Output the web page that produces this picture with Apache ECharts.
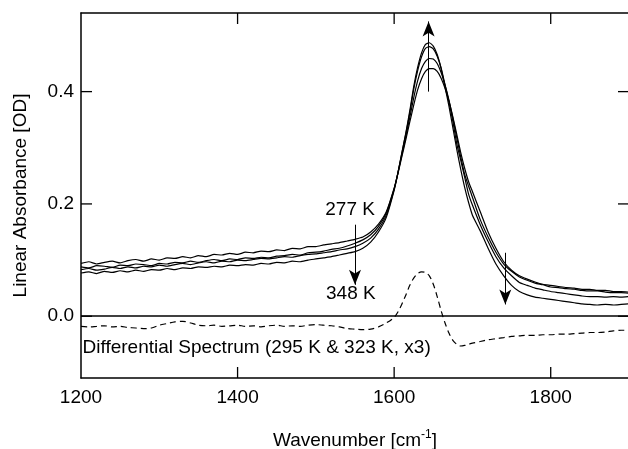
<!DOCTYPE html>
<html>
<head>
<meta charset="utf-8">
<script src="https://cdn.jsdelivr.net/npm/echarts@6/dist/echarts.min.js"></script>
<style>
html, body { margin: 0; padding: 0; background: #fff; }
#chart { width: 628px; height: 449px; }
</style>
</head>
<body>
<div id="chart"></div>
<script>
// wavenumber grid (cm-1)
const wavenumbers = [
1200,1210,1220,1230,1240,1250,1260,1270,1280,1290,
1300,1310,1320,1330,1340,1350,1360,1370,1380,1390,
1400,1410,1420,1430,1440,1450,1460,1470,1480,1490,
1500,1510,1520,1530,1540,1550,1560,1570,1580,1590,
1600,1605,1610,1615,1620,1625,1630,1635,1640,1645,1650,1655,1660,1665,1670,1675,1680,1685,1690,1695,1700,
1710,1720,1730,1740,1750,1760,1770,1780,1790,1800,1810,1820,1830,1840,1850,1860,1870,1880,1890,1900
];
// absorbance spectra, 277 K ... 348 K
const abs277 = [
.094,.097,.093,.096,.098,.095,.099,.101,.098,.102,
.100,.104,.103,.106,.104,.108,.106,.110,.109,.112,
.110,.114,.113,.116,.115,.118,.117,.121,.120,.124,
.124,.127,.129,.131,.134,.137,.141,.150,.164,.186,
.228,.255,.285,.315,.346,.376,.403,.423,.436,.441,.441,.436,.424,.406,.383,.355,.324,.292,.264,.240,.222,
.186,.150,.121,.097,.082,.072,.066,.061,.057,.055,.053,.051,.050,.048,.048,.046,.046,.044,.044,.043
];
const abs295 = [
.088,.086,.090,.089,.087,.091,.090,.093,.092,.090,
.094,.093,.096,.095,.098,.096,.099,.101,.099,.102,
.101,.104,.103,.105,.104,.107,.108,.110,.109,.113,
.114,.116,.119,.121,.125,.130,.136,.145,.160,.184,
.227,.256,.288,.320,.354,.389,.419,.441,.454,.459,.458,.450,.434,.412,.385,.353,.318,.284,.253,.232,.212,
.172,.141,.114,.093,.080,.070,.064,.059,.056,.052,.051,.049,.048,.046,.045,.045,.043,.042,.042,.041
];
const abs323 = [
.083,.085,.082,.084,.087,.085,.088,.086,.089,.088,
.091,.089,.092,.094,.092,.095,.097,.095,.098,.097,
.100,.099,.101,.103,.102,.104,.106,.105,.108,.110,
.111,.113,.115,.118,.120,.124,.130,.139,.155,.180,
.226,.257,.292,.325,.362,.404,.437,.462,.477,.480,.476,.463,.442,.412,.382,.347,.307,.278,.248,.218,.198,
.163,.133,.106,.086,.072,.060,.055,.050,.047,.044,.042,.040,.038,.036,.035,.035,.034,.035,.034,.035
];
const abs348 = [
.077,.079,.076,.080,.078,.081,.079,.082,.080,.083,
.082,.085,.083,.086,.085,.088,.087,.089,.088,.091,
.090,.092,.091,.094,.093,.096,.095,.098,.097,.100,
.102,.104,.106,.109,.112,.115,.121,.132,.150,.176,
.224,.256,.292,.327,.366,.409,.443,.469,.484,.487,.481,.466,.441,.408,.374,.336,.297,.262,.230,.203,.180,
.152,.121,.093,.072,.055,.044,.038,.034,.032,.030,.028,.026,.024,.022,.021,.020,.021,.020,.021,.022
];
// differential spectrum (295 K & 323 K, x3)
const diffSpectrum = [
-.018,-.019,-.018,-.017,-.019,-.018,-.020,-.021,-.022,-.021,
-.016,-.013,-.010,-.009,-.012,-.016,-.017,-.016,-.018,-.017,
-.016,-.018,-.017,-.019,-.017,-.016,-.018,-.017,-.018,-.016,
-.015,-.016,-.017,-.019,-.022,-.023,-.024,-.023,-.019,-.012,
-.002,.008,.022,.038,.055,.068,.076,.079,.078,.072,.057,.035,.010,-.012,-.030,-.043,-.050,-.053,-.052,-.050,-.048,
-.045,-.042,-.040,-.038,-.036,-.035,-.034,-.034,-.033,-.033,-.032,-.032,-.031,-.030,-.029,-.029,-.028,-.026,-.025,-.025
];
const xTicks = [1200, 1400, 1600, 1800];
const yTicks = [0, 0.2, 0.4];

const X_MIN = 1200, X_MAX = 1900, Y_MIN = -0.11, Y_MAX = 0.54;
const FONT = 'Liberation Sans, Arial, sans-serif';
const FS = 19;
const TICK_LEN = 11;
const chart = echarts.init(document.getElementById('chart'));

function pairs(ys) {
  return wavenumbers.map((x, i) => [x, ys[i]]);
}
function spectrum(ys) {
  return {
    type: 'line',
    data: pairs(ys),
    symbol: 'none',
    smooth: 0.2,
    lineStyle: { color: '#000', width: 1.2 },
    silent: true
  };
}

const option = {
  animation: false,
  grid: { left: 81, right: -1, top: 13, bottom: 71, outerBoundsMode: 'none', containLabel: false },
  xAxis: [
    {
      type: 'value', min: X_MIN, max: X_MAX,
      name: '{n|Wavenumber [cm}{s|-1}{n|]}',
      nameLocation: 'middle', nameGap: 51,
      nameTextStyle: {
        rich: {
          n: { fontFamily: FONT, fontSize: FS, color: '#000' },
          s: { fontFamily: FONT, fontSize: 12, color: '#000', verticalAlign: 'top', padding: [0, 0, 12, 0] }
        }
      },
      axisLine: { show: true, onZero: false, lineStyle: { color: '#000', width: 1.5 } },
      axisTick: { show: false },
      axisLabel: { customValues: xTicks, color: '#000', fontFamily: FONT, fontSize: FS, margin: 10, formatter: v => String(v) },
      splitLine: { show: false }
    },
    {
      type: 'value', position: 'top', min: X_MIN, max: X_MAX,
      axisLine: { show: true, onZero: false, lineStyle: { color: '#000', width: 1.5 } },
      axisTick: { show: false },
      axisLabel: { show: false },
      splitLine: { show: false }
    }
  ],
  yAxis: [
    {
      type: 'value', min: Y_MIN, max: Y_MAX,
      name: 'Linear Absorbance [OD]',
      nameLocation: 'middle', nameGap: 51,
      nameTextStyle: { fontFamily: FONT, fontSize: FS, color: '#000' },
      axisLine: { show: true, onZero: false, lineStyle: { color: '#000', width: 1.5 } },
      axisTick: { show: false },
      axisLabel: {
        customValues: yTicks, color: '#000', fontFamily: FONT, fontSize: FS, margin: 7,
        formatter: v => v.toFixed(1)
      },
      splitLine: { show: false }
    }
  ],
  series: [
    spectrum(abs277),
    spectrum(abs295),
    spectrum(abs323),
    spectrum(abs348),
    {
      type: 'line',
      data: pairs(diffSpectrum),
      symbol: 'none',
      smooth: 0.3,
      silent: true,
      lineStyle: { color: '#000', width: 1.2, type: [6, 4] },
      markLine: {
        silent: true,
        animation: false,
        symbol: ['none', 'none'],
        label: { show: false },
        lineStyle: { color: '#000', width: 1, type: 'solid' },
        data: [
          { yAxis: 0, lineStyle: { color: '#000', width: 1.5, type: 'solid' } },
          [
            { coord: [1644, 0.40] },
            { coord: [1644, 0.525], symbol: 'arrow', symbolSize: [9, 15] }
          ],
          [
            { coord: [1550, 0.163] },
            { coord: [1550, 0.056], symbol: 'arrow', symbolSize: [9, 15] }
          ],
          [
            { coord: [1742, 0.113] },
            { coord: [1742, 0.021], symbol: 'arrow', symbolSize: [9, 15] }
          ]
        ]
      },
      markPoint: {
        silent: true,
        animation: false,
        symbol: 'circle',
        symbolSize: 0,
        label: {
          show: true, position: 'right', distance: 0,
          formatter: '{b}', color: '#000', fontFamily: FONT, fontSize: FS
        },
        data: [
          { name: '277 K', coord: [1512, 0.189] },
          { name: '348 K', coord: [1513, 0.040] },
          { name: 'Differential Spectrum (295 K & 323 K, x3)', coord: [1202, -0.0556] }
        ]
      }
    }
  ]
};
chart.setOption(option);

// inside tick marks on the four sides of the frame, placed through the axis scales
function toPx(x, y) {
  return chart.convertToPixel({ gridIndex: 0 }, [x, y]);
}
function tickLine(x1, y1, x2, y2) {
  return {
    type: 'line', silent: true, z: 100,
    shape: { x1: x1, y1: y1, x2: x2, y2: y2 },
    style: { stroke: '#000', lineWidth: 1.3 }
  };
}
const ticks = [];
xTicks.filter(x => x > X_MIN).forEach(x => {
  const b = toPx(x, Y_MIN);
  const t = toPx(x, Y_MAX);
  ticks.push(tickLine(b[0], b[1], b[0], b[1] - TICK_LEN));
  ticks.push(tickLine(t[0], t[1], t[0], t[1] + TICK_LEN));
});
yTicks.forEach(y => {
  const l = toPx(X_MIN, y);
  const r = toPx(X_MAX, y);
  ticks.push(tickLine(l[0], l[1], l[0] + TICK_LEN, l[1]));
  ticks.push(tickLine(r[0], r[1], r[0] - TICK_LEN, r[1]));
});
chart.setOption({ graphic: { elements: ticks } });
</script>
</body>
</html>
